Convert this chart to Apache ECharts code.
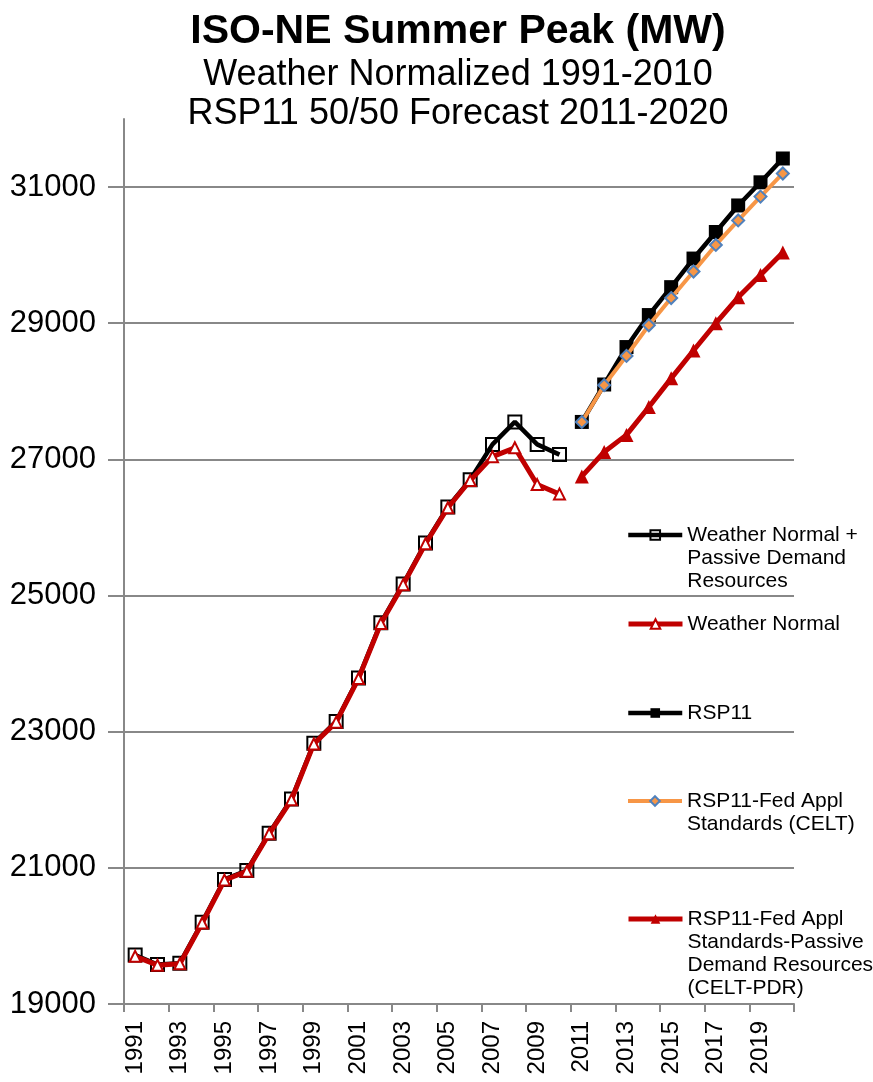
<!DOCTYPE html>
<html>
<head>
<meta charset="utf-8">
<script src="https://cdn.jsdelivr.net/npm/echarts@6/dist/echarts.min.js"></script>
<style>
  html, body { margin: 0; padding: 0; background: #fff; }
  #chart { width: 873px; height: 1082px; }
</style>
</head>
<body>
<div id="chart"></div>
<script>
var chartDom = document.getElementById('chart');
var myChart = echarts.init(chartDom);

// years on the x axis
var years = [];
for (var y = 1991; y <= 2020; y++) years.push(String(y));

// history 1991-2010
var wnPdr = [19720, 19580, 19600, 20200, 20830, 20960, 21510, 22010, 22830, 23150,
             23790, 24600, 25170, 25770, 26300, 26700, 27220, 27550, 27220, 27070];
var wn    = [19700, 19570, 19590, 20190, 20820, 20950, 21500, 22000, 22820, 23140,
             23780, 24590, 25160, 25760, 26290, 26690, 27040, 27170, 26630, 26490];

// forecast 2011-2020
var rsp11   = [27550, 28100, 28650, 29120, 29530, 29950, 30340, 30730, 31070, 31420];
var celt    = [27550, 28090, 28520, 28970, 29370, 29760, 30150, 30510, 30860, 31200];
var celtPdr = [26750, 27110, 27360, 27770, 28190, 28600, 29000, 29380, 29710, 30040];

var names = [
  'Weather Normal + Passive Demand Resources',
  'Weather Normal',
  'RSP11',
  'RSP11-Fed Appl Standards (CELT)',
  'RSP11-Fed Appl Standards-Passive Demand Resources (CELT-PDR)'
];
// legend text lines as in the picture
var legendLines = [
  ['Weather Normal +', 'Passive Demand', 'Resources'],
  ['Weather Normal'],
  ['RSP11'],
  ['RSP11-Fed Appl', 'Standards (CELT)'],
  ['RSP11-Fed Appl', 'Standards-Passive', 'Demand Resources', '(CELT-PDR)']
];
// y of the legend icon for each entry
var legendIconY = [535, 624, 713, 801, 919];

function pad(vals, before, after) {
  var out = [];
  for (var i = 0; i < before; i++) out.push(null);
  out = out.concat(vals);
  for (var j = 0; j < after; j++) out.push(null);
  return out;
}

var FONT = 'Liberation Sans';
var LH = 23;

var legends = names.map(function (n, i) {
  var lines = legendLines[i];
  var k = lines.length;
  // blank lines on top keep the first text line level with the icon
  var txt = new Array(k).join('\n') + lines.join('\n');
  return {
    data: [n],
    left: 626,
    top: legendIconY[i] - (2 * k - 1) * LH / 2,
    padding: 0,
    itemWidth: 54,
    itemHeight: 12,
    itemGap: 0,
    selectedMode: false,
    formatter: function () { return txt; },
    lineStyle: { width: 'inherit' },
    textStyle: { fontFamily: FONT, fontSize: 21, color: '#000', lineHeight: LH }
  };
});

var gridColors = ['#888', '#888', '#888', '#888', '#888', '#888', '#888', 'rgba(0,0,0,0)'];

option = {
  backgroundColor: '#fff',
  animation: false,
  title: {
    text: 'ISO-NE Summer Peak (MW)',
    subtext: 'Weather Normalized 1991-2010\nRSP11 50/50 Forecast 2011-2020',
    left: 458,
    top: 11,
    padding: 0,
    itemGap: 4,
    textAlign: 'center',
    textStyle: { fontFamily: FONT, fontSize: 41, fontWeight: 'bold', color: '#000' },
    subtextStyle: { fontFamily: FONT, fontSize: 36, color: '#000', lineHeight: 39 }
  },
  legend: legends,
  grid: { left: 124, right: 79, top: 119, bottom: 78, containLabel: false },
  xAxis: {
    type: 'category',
    data: years,
    boundaryGap: true,
    axisLine: { lineStyle: { color: '#888', width: 2 } },
    axisTick: { show: true, length: 8, lineStyle: { color: '#888', width: 2 } },
    axisLabel: { interval: 1, rotate: 90, margin: 17, fontFamily: FONT, fontSize: 24, color: '#000' },
    splitLine: { show: false }
  },
  yAxis: {
    type: 'value',
    min: 19000,
    max: 32000,
    interval: 2000,
    axisLine: { show: true, lineStyle: { color: '#888', width: 2 } },
    axisTick: { show: true, length: 16, lineStyle: { color: '#888', width: 2 } },
    axisLabel: {
      margin: 28, showMaxLabel: false, fontFamily: FONT, fontSize: 31, color: '#000',
      formatter: function (v) { return String(v); }
    },
    splitLine: { show: true, lineStyle: { color: gridColors, width: 2 } }
  },
  series: [
    {
      name: names[0], type: 'line', data: pad(wnPdr, 0, 10),
      symbol: 'rect', symbolSize: 13, showAllSymbol: true,
      lineStyle: { color: '#000', width: 4.5 },
      itemStyle: { color: 'rgba(255,255,255,0)', borderColor: '#000', borderWidth: 2 },
      z: 2
    },
    {
      name: names[1], type: 'line', data: pad(wn, 0, 10),
      symbol: 'triangle', symbolSize: 11, showAllSymbol: true,
      lineStyle: { color: '#C00000', width: 5 },
      itemStyle: { color: '#fff', borderColor: '#C00000', borderWidth: 2 },
      z: 3
    },
    {
      name: names[2], type: 'line', data: pad(rsp11, 20, 0),
      symbol: 'rect', symbolSize: 14, showAllSymbol: true,
      lineStyle: { color: '#000', width: 4.5 },
      itemStyle: { color: '#000' },
      z: 2
    },
    {
      name: names[3], type: 'line', data: pad(celt, 20, 0),
      symbol: 'diamond', symbolSize: 12, showAllSymbol: true,
      lineStyle: { color: '#F79646', width: 4 },
      itemStyle: { color: '#F79646', borderColor: '#4F81BD', borderWidth: 2 },
      z: 3
    },
    {
      name: names[4], type: 'line', data: pad(celtPdr, 20, 0),
      symbol: 'triangle', symbolSize: 14, showAllSymbol: true,
      lineStyle: { color: '#C00000', width: 5 },
      itemStyle: { color: '#C00000' },
      z: 3
    }
  ]
};

option && myChart.setOption(option);
</script>
</body>
</html>
